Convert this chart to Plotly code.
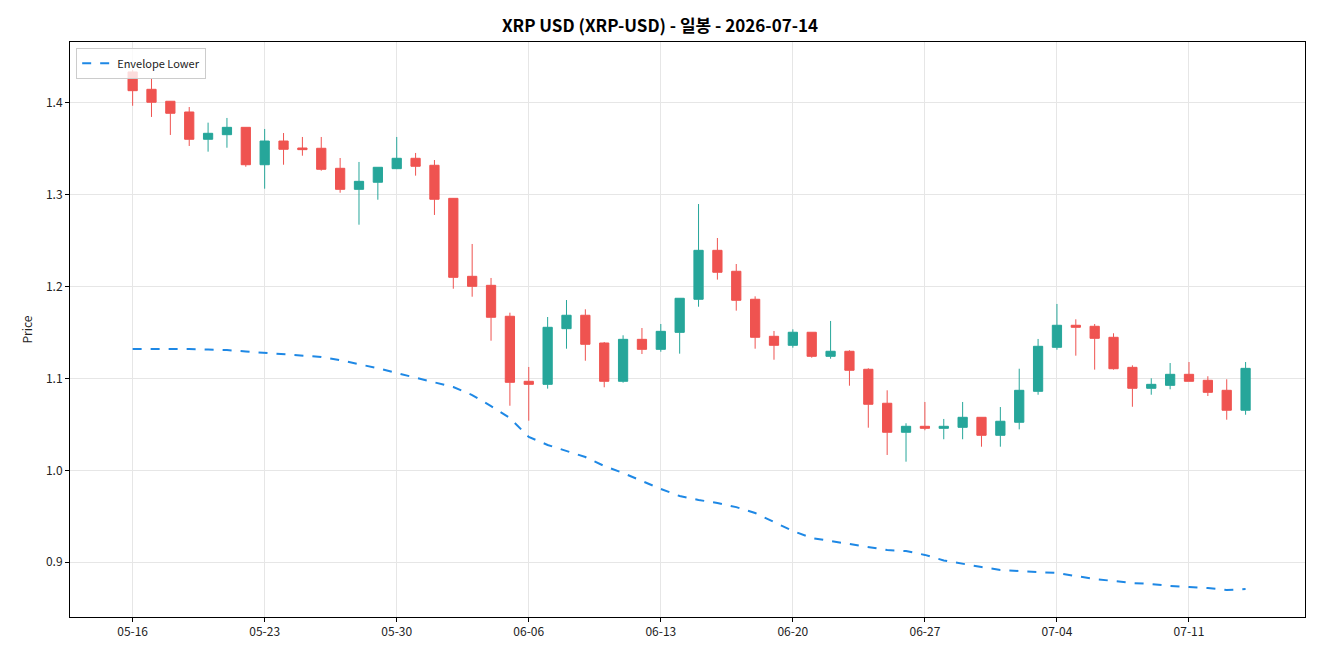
import pandas as pd
import plotly.graph_objects as go

dates = pd.date_range("2026-05-16", periods=60, freq="D")

opens = [1.4338, 1.4149, 1.4019, 1.3902, 1.3605, 1.3655, 1.3735, 1.3328, 1.3586, 1.3510,
         1.3507, 1.3289, 1.3060, 1.3137, 1.3285, 1.3398, 1.3322, 1.2962, 1.2113, 1.2015,
         1.1678, 1.0970, 1.0937, 1.1543, 1.1689, 1.1387, 1.0970, 1.1427, 1.1318, 1.1503,
         1.1863, 1.2396, 1.2168, 1.1863, 1.1460, 1.1362, 1.1504, 1.1242, 1.1297, 1.1101,
         1.0731, 1.0415, 1.0480, 1.0458, 1.0469, 1.0578, 1.0382, 1.0524, 1.0861, 1.1340,
         1.1580, 1.1569, 1.1449, 1.1122, 1.0894, 1.0926, 1.1046, 1.0981, 1.0872, 1.0655]
highs = [1.4360, 1.4272, 1.4020, 1.3956, 1.3786, 1.3837, 1.3735, 1.3717, 1.3673, 1.3630,
         1.3630, 1.3401, 1.3358, 1.3300, 1.3630, 1.3456, 1.3379, 1.2965, 1.2465, 1.2095,
         1.1717, 1.1126, 1.1670, 1.1855, 1.1754, 1.1398, 1.1471, 1.1550, 1.1594, 1.1874,
         1.2900, 1.2530, 1.2247, 1.1895, 1.1518, 1.1536, 1.1504, 1.1627, 1.1308, 1.1112,
         1.0872, 1.0513, 1.0745, 1.0560, 1.0745, 1.0578, 1.0690, 1.1107, 1.1431, 1.1812,
         1.1645, 1.1594, 1.1493, 1.1144, 1.1003, 1.1169, 1.1180, 1.1025, 1.0992, 1.1180]
lows = [1.3970, 1.3848, 1.3652, 1.3532, 1.3470, 1.3513, 1.3306, 1.3067, 1.3328, 1.3426,
        1.3263, 1.3023, 1.2675, 1.2947, 1.3280, 1.3209, 1.2781, 1.1978, 1.1891, 1.1412,
        1.0704, 1.0541, 1.0890, 1.1325, 1.1194, 1.0905, 1.0955, 1.1267, 1.1292, 1.1271,
        1.1782, 1.2077, 1.1739, 1.1325, 1.1205, 1.1336, 1.1227, 1.1216, 1.0922, 1.0465,
        1.0168, 1.0095, 1.0437, 1.0339, 1.0339, 1.0258, 1.0258, 1.0447, 1.0824, 1.1314,
        1.1249, 1.1097, 1.1097, 1.0693, 1.0824, 1.0883, 1.0970, 1.0810, 1.0552, 1.0606]
closes = [1.4134, 1.4008, 1.3888, 1.3605, 1.3670, 1.3735, 1.3328, 1.3586, 1.3496, 1.3492,
          1.3278, 1.3060, 1.3147, 1.3300, 1.3398, 1.3311, 1.2952, 1.2102, 1.2004, 1.1667,
          1.0959, 1.0937, 1.1558, 1.1689, 1.1373, 1.0970, 1.1427, 1.1318, 1.1514, 1.1874,
          1.2396, 1.2157, 1.1852, 1.1449, 1.1362, 1.1504, 1.1242, 1.1297, 1.1090, 1.0720,
          1.0415, 1.0480, 1.0458, 1.0480, 1.0578, 1.0382, 1.0535, 1.0872, 1.1351, 1.1580,
          1.1558, 1.1438, 1.1107, 1.0894, 1.0937, 1.1046, 1.0970, 1.0850, 1.0655, 1.1111]
envelope_lower = [1.1322, 1.1322, 1.1325, 1.1322, 1.1316, 1.1310, 1.1295, 1.1278, 1.1265, 1.1250,
                  1.1235, 1.1200, 1.1158, 1.1112, 1.1060, 1.1010, 1.0962, 1.0908, 1.0820, 1.0700,
                  1.0570, 1.0364, 1.0277, 1.0210, 1.0146, 1.0048, 0.9972, 0.9885, 0.9798, 0.9721,
                  0.9678, 0.9645, 0.9600, 0.9536, 0.9438, 0.9340, 0.9264, 0.9231, 0.9199, 0.9166,
                  0.9133, 0.9122, 0.9080, 0.9020, 0.8981, 0.8948, 0.8916, 0.8905, 0.8894, 0.8883,
                  0.8850, 0.8818, 0.8796, 0.8774, 0.8763, 0.8742, 0.8731, 0.8720, 0.8698, 0.8709]

tick_dates = pd.date_range("2026-05-16", periods=9, freq="7D")
tick_labels = [d.strftime("%m-%d") for d in tick_dates]

fig = go.Figure()
fig.add_trace(go.Candlestick(
    x=dates, open=opens, high=highs, low=lows, close=closes,
    increasing=dict(line=dict(color="#26a69a", width=1), fillcolor="#26a69a"),
    decreasing=dict(line=dict(color="#ef5350", width=1), fillcolor="#ef5350"),
    showlegend=False, name="XRP-USD"))
fig.add_trace(go.Scatter(
    x=dates, y=envelope_lower, mode="lines", name="Envelope Lower",
    line=dict(color="#1e88e5", width=2, dash="dash")))

start = pd.Timestamp("2026-05-16")
x0 = start - pd.Timedelta(days=3.32)
x1 = start + pd.Timedelta(days=62.15)

fig.update_layout(
    width=1320, height=660,
    margin=dict(l=70, r=15, t=42, b=43),
    paper_bgcolor="white", plot_bgcolor="white",
    font=dict(family="Noto Sans CJK KR, DejaVu Sans, sans-serif", size=12, color="#222"),
    title=dict(text="<b>XRP USD (XRP-USD) - 일봉 - 2026-07-14</b>", x=0.5, xanchor="center",
               y=0.96, yanchor="middle", font=dict(size=17, color="black")),
    legend=dict(x=0.005, y=0.99, xanchor="left", yanchor="top",
                bgcolor="rgba(255,255,255,0.8)", bordercolor="#cccccc", borderwidth=1,
                font=dict(size=11)),
    xaxis=dict(type="date", range=[x0, x1], rangeslider=dict(visible=False),
               tickvals=tick_dates, ticktext=tick_labels,
               showgrid=True, gridcolor="#e6e6e6", gridwidth=1,
               showline=True, linecolor="black", linewidth=1, mirror=True,
               ticks="outside", ticklen=4, tickcolor="black", zeroline=False),
    yaxis=dict(range=[0.8404, 1.4664], tickvals=[0.9, 1.0, 1.1, 1.2, 1.3, 1.4],
               tickformat=".1f", title=dict(text="Price", standoff=10, font=dict(size=12)),
               showgrid=True, gridcolor="#e6e6e6", gridwidth=1,
               showline=True, linecolor="black", linewidth=1, mirror=True,
               ticks="outside", ticklen=4, tickcolor="black", zeroline=False),
)

fig.write_html("out.html")
